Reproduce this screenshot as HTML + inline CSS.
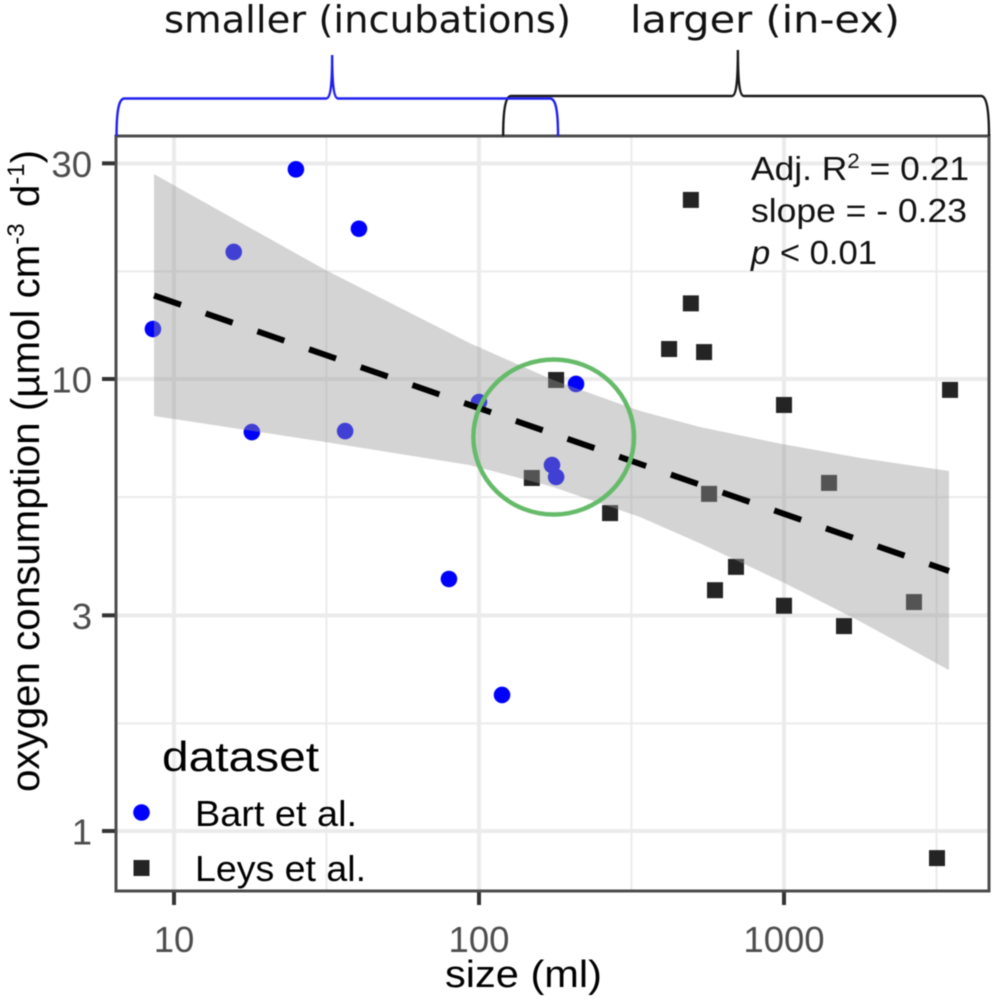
<!DOCTYPE html>
<html lang="en">
<head>
<meta charset="utf-8">
<title>Oxygen consumption vs size</title>
<style>
html,body{margin:0;padding:0;background:#fff;}
#chart{display:block;width:1000px;height:1002px;filter:blur(0.55px);font-family:"Liberation Sans",Arial,sans-serif;}
</style>
</head>
<body>
<svg id="chart" xmlns="http://www.w3.org/2000/svg" width="1000" height="1002" viewBox="0 0 1000 1002">
  <rect x="0" y="0" width="1000" height="1002" fill="#ffffff"/>
  <g id="grid"></g>
  <g id="points"></g>
  <path id="ribbon" fill="#989898" fill-opacity="0.42"></path>
  <path id="trend" fill="none" stroke="#000" stroke-width="6" stroke-dasharray="28.5 26.2"></path>
  <ellipse cx="553.7" cy="437" rx="80.3" ry="77.5" fill="none" stroke="#66bb6a" stroke-width="4.5"/>
  <g id="axes"></g>
  <rect x="116" y="136" width="873" height="755" fill="none" stroke="#4d4d4d" stroke-width="3"/>
  <g id="braces"></g>

  <text x="164" y="32.5" font-family="'DejaVu Sans',sans-serif" font-size="37" fill="#111" textLength="407" lengthAdjust="spacingAndGlyphs">smaller (incubations)</text>
  <text x="630" y="32.5" font-family="'DejaVu Sans',sans-serif" font-size="37" fill="#111" textLength="270" lengthAdjust="spacingAndGlyphs">larger (in-ex)</text>

  <text x="751" y="180" font-size="33" fill="#111" textLength="218" lengthAdjust="spacingAndGlyphs">Adj. R<tspan font-size="21" dy="-12">2</tspan><tspan dy="12"> = 0.21</tspan></text>
  <text x="751" y="222" font-size="33" fill="#111" textLength="216" lengthAdjust="spacingAndGlyphs">slope = - 0.23</text>
  <text x="751" y="264" font-size="33" fill="#111" textLength="126" lengthAdjust="spacingAndGlyphs"><tspan font-style="italic">p</tspan> &lt; 0.01</text>

  <text transform="translate(39,792) rotate(-90)" x="0" y="0" font-size="40.3" fill="#000">oxygen consumption (µmol cm<tspan font-size="24" dy="-15">-3</tspan><tspan dy="15" dx="5"> d</tspan><tspan font-size="24" dy="-15">-1</tspan><tspan dy="15">)</tspan></text>
  <text x="445" y="987" font-size="38" fill="#000" textLength="157" lengthAdjust="spacingAndGlyphs">size (ml)</text>

  <g>
    <text x="162" y="771" font-size="42" fill="#000" textLength="157" lengthAdjust="spacingAndGlyphs">dataset</text>
    <circle cx="141.5" cy="812.5" r="8.3" fill="#0000ff"/>
    <text x="195" y="826" font-size="36" fill="#000" textLength="162" lengthAdjust="spacingAndGlyphs">Bart et al.</text>
    <rect x="133.5" y="860" width="16" height="16" fill="#242424"/>
    <text x="195" y="881" font-size="36" fill="#000" textLength="171" lengthAdjust="spacingAndGlyphs">Leys et al.</text>
  </g>
</svg>

<script>
var bartSize = [8.53, 15.7, 18.0, 25.1, 36.4, 40.4, 79.7, 100, 119, 173.5, 179, 208];
var bartOxygen = [12.9, 19.1, 7.63, 29.1, 7.67, 21.5, 3.61, 8.89, 2.0, 6.45, 6.07, 9.75];
var leysSize = [495, 495, 420, 547, 179, 3503, 1000, 149, 568, 1405, 269, 696, 594, 1000, 1573, 2668, 3174];
var leysOxygen = [24.9, 14.7, 11.65, 11.47, 9.95, 9.46, 8.76, 6.04, 5.57, 5.89, 5.05, 3.84, 3.41, 3.15, 2.84, 3.21, 0.871];
var ribbonSize = [8.6, 31.5, 93.4, 175, 337, 530, 985, 1775, 3475];
var ribbonUpper = [28.4, 17.4, 12.0, 9.95, 8.5, 7.83, 7.18, 6.69, 6.26];
var ribbonLower = [8.28, 7.25, 6.45, 5.77, 4.95, 4.33, 3.56, 2.91, 2.27];
var trendSize = [8.6, 3475];
var trendOxygen = [15.3, 3.76];
var xTickLabels = ["10", "100", "1000"];
var xTicks = [10, 100, 1000];
var xMinorTicks = [31.6, 316, 3162];
var yTickLabels = ["1", "3", "10", "30"];
var yTicks = [1, 3, 10, 30];
var yMinorTicks = [1.73, 5.48, 17.3];
var smallerRange = [6.48, 181.6];
var smallerApex = 33;
var largerRange = [120, 4700];
var largerApex = 706;

var SVGNS = "http://www.w3.org/2000/svg";
function xScale(v) { return 174 + 305 * (Math.log10(v) - 1); }
function yScale(v) { return 831 - 452 * Math.log10(v); }
function make(tag, attrs, parent) {
  var node = document.createElementNS(SVGNS, tag);
  for (var k in attrs) node.setAttribute(k, attrs[k]);
  parent.appendChild(node);
  return node;
}

var gridG = document.getElementById("grid");
xMinorTicks.forEach(function (v) {
  var el = make("line", { x1: xScale(v), x2: xScale(v), y1: 136, y2: 891, stroke: "#ebebeb", "stroke-width": 2 }, gridG);
  
  
});
yMinorTicks.forEach(function (v) {
  var el = make("line", { x1: 116, x2: 989, y1: yScale(v), y2: yScale(v), stroke: "#ebebeb", "stroke-width": 2 }, gridG);
  
  
});
xTicks.forEach(function (v) {
  var el = make("line", { x1: xScale(v), x2: xScale(v), y1: 136, y2: 891, stroke: "#ebebeb", "stroke-width": 4 }, gridG);
  
  
});
yTicks.forEach(function (v) {
  var el = make("line", { x1: 116, x2: 989, y1: yScale(v), y2: yScale(v), stroke: "#ebebeb", "stroke-width": 4 }, gridG);
  
  
});

var pointsG = document.getElementById("points");
bartSize.forEach(function (v, i) {
  var el = make("circle", { cx: xScale(v), cy: yScale(bartOxygen[i]), r: 8.3, fill: "#0000ff" }, pointsG);
  
  
});
leysSize.forEach(function (v, i) {
  var el = make("rect", { x: xScale(v) - 8, y: yScale(leysOxygen[i]) - 8, width: 16, height: 16, fill: "#242424" }, pointsG);
  
  
});

var upperPts = ribbonSize.map(function (v, i) { return xScale(v) + "," + yScale(ribbonUpper[i]); });
var lowerPts = ribbonSize.map(function (v, i) { return xScale(v) + "," + yScale(ribbonLower[i]); }).reverse();
document.getElementById("ribbon").setAttribute("d", "M" + upperPts.concat(lowerPts).join("L") + "Z");
document.getElementById("trend").setAttribute("d", "M" + trendSize.map(function (v, i) {
  return xScale(v) + "," + yScale(trendOxygen[i]);
}).join("L"));

var axesG = document.getElementById("axes");
xTicks.forEach(function (v, i) {
  var mark = make("line", { x1: xScale(v), x2: xScale(v), y1: 891, y2: 905, stroke: "#333", "stroke-width": 4 }, axesG);
  
  
  var label = make("text", { x: xScale(v), y: 952, "text-anchor": "middle", "font-size": 36.5, fill: "#4d4d4d" }, axesG);
  
  
  label.textContent = xTickLabels[i];
});
yTicks.forEach(function (v, i) {
  var mark = make("line", { x1: 102, x2: 116, y1: yScale(v), y2: yScale(v), stroke: "#333", "stroke-width": 4 }, axesG);
  
  
  var label = make("text", { x: 92, y: yScale(v) + 13.5, "text-anchor": "end", "font-size": 36.5, fill: "#4d4d4d" }, axesG);
  
  
  label.textContent = yTickLabels[i];
});

function bracePath(range, apex, level, top) {
  var a = xScale(range[0]), b = xScale(range[1]), m = xScale(apex);
  return "M" + a + ",136 C" + a + ",112 " + (a + 2) + "," + level + " " + (a + 8) + "," + level +
    " L" + (m - 6) + "," + level + " C" + (m - 2) + "," + level + " " + m + "," + (level - 12) + " " + m + "," + top +
    " C" + m + "," + (level - 12) + " " + (m + 2) + "," + level + " " + (m + 6) + "," + level +
    " L" + (b - 8) + "," + level + " C" + (b - 2) + "," + level + " " + b + ",112 " + b + ",136";
}
var bracesG = document.getElementById("braces");
var largerBrace = make("path", { d: bracePath(largerRange, largerApex, 96, 50), fill: "none", stroke: "#1a1a1a", "stroke-width": 2.4 }, bracesG);


var smallerBrace = make("path", { d: bracePath(smallerRange, smallerApex, 98.5, 55), fill: "none", stroke: "#2020f0", "stroke-width": 2.4 }, bracesG);


</script>
</body>
</html>
